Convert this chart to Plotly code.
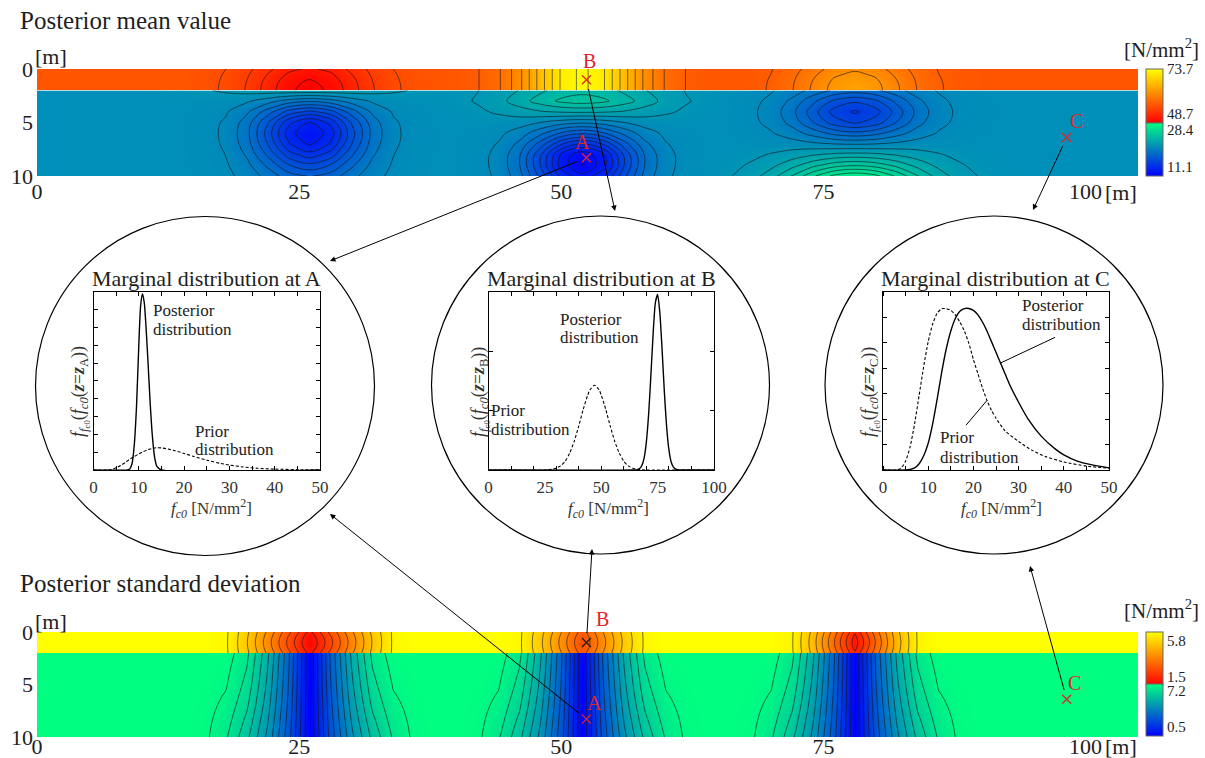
import numpy as np
import plotly.graph_objects as go

W, H = 1205, 758
SERIF = "Liberation Serif, DejaVu Serif, serif"
INK = "#1e1e1e"
RED = "#e3242b"

# ---------------- grid of the cross-section ----------------
X_MAX = 105.0
x_m = [float(v) for v in range(0, 106, 2)] + [X_MAX]
depth_top = [0.0, 0.5, 1.0, 1.5, 2.0]                               # upper layer [m]
depth_bottom = [2.0, 3.0, 4.0, 5.0, 6.0, 7.0, 8.0, 9.0, 10.0]       # lower layer [m]
x_ticks = [0, 25, 50, 75, 100]
depth_ticks = [0, 5, 10]

# lateral decay of an anomaly, one-sided, every 2 m from its centre
lateral_dist_m = [0, 2, 4, 6, 8, 10, 12, 14, 16, 18]
decay = {
    "g35": [1.0, 0.849, 0.520, 0.230, 0.073, 0.017, 0.003, 0.0, 0.0, 0.0],
    "g4": [1.0, 0.882, 0.607, 0.325, 0.135, 0.044, 0.011, 0.002, 0.0, 0.0],
    "g5": [1.0, 0.923, 0.726, 0.487, 0.278, 0.135, 0.056, 0.020, 0.006, 0.0],
    "g6": [1.0, 0.946, 0.801, 0.607, 0.411, 0.249, 0.135, 0.066, 0.029, 0.0],
    "t8": [1.0, 0.74, 0.48, 0.23, 0.03, 0.0, 0.0, 0.0, 0.0, 0.0],
    "t6": [1.0, 0.64, 0.30, 0.04, 0.0, 0.0, 0.0, 0.0, 0.0, 0.0],
    "pn": [1.0, 0.62, 0.32, 0.09, 0.0, 0.0, 0.0, 0.0, 0.0, 0.0],
    "pw": [1.0, 0.68, 0.43, 0.24, 0.10, 0.02, 0.0, 0.0, 0.0, 0.0],
}

# posterior mean [N/mm2], upper layer
mean_top_base = 57.0
mean_top_centre = [26, 52, 78]
mean_top_amp = [-8.3, 16.7, 7.5]
mean_top_shape = ["g4", "g4", "g4"]
mean_top_vert = [[0.75, 0.85, 0.93, 0.98, 1.0],
                 [1.0, 1.0, 1.0, 1.0, 1.0],
                 [0.75, 0.85, 0.93, 0.98, 1.0]]

# posterior mean [N/mm2], lower layer
mean_bot_base = 20.8
mean_bot_centre = [26, 26, 52, 52, 78, 78]
mean_bot_amp = [1.5, -8.5, 3.8, -9.7, -6.0, 6.6]
mean_bot_shape = ["g6", "g35", "g5", "g35", "g4", "g5"]
mean_bot_vert = [[1.0, 0.3, 0.05, 0.0, 0.0, 0.0, 0.0, 0.0, 0.0],
                 [0.05, 0.3, 0.62, 0.9, 1.0, 0.92, 0.75, 0.55, 0.38],
                 [0.75, 1.0, 0.6, 0.2, 0.05, 0.0, 0.0, 0.0, 0.0],
                 [0.0, 0.02, 0.08, 0.2, 0.42, 0.7, 0.95, 0.98, 0.85],
                 [0.45, 0.8, 1.0, 0.85, 0.5, 0.2, 0.05, 0.0, 0.0],
                 [0.0, 0.0, 0.0, 0.0, 0.02, 0.1, 0.3, 0.6, 1.0]]

# posterior standard deviation [N/mm2], upper layer
std_top_base = 5.8
std_top_centre = [26, 52, 78]
std_top_amp = [-4.2, -3.0, -4.0]
std_top_shape = ["t8", "t6", "t6"]
std_top_vert = [[0.93, 0.98, 1.0, 0.98, 0.93]] * 3

# posterior standard deviation [N/mm2], lower layer (narrow near the top, wider at depth)
std_bot_base = 7.2
upper_weight = [1.0, 0.9, 0.8, 0.7, 0.58, 0.45, 0.3, 0.15, 0.0]
lower_weight = [0.0, 0.1, 0.2, 0.3, 0.42, 0.55, 0.7, 0.85, 1.0]
std_bot_centre = [26, 26, 52, 52, 78, 78]
std_bot_amp = [-6.7, -6.7, -6.7, -6.7, -6.7, -6.7]
std_bot_shape = ["pn", "pw", "pn", "pw", "pn", "pw"]
std_bot_vert = [upper_weight, lower_weight] * 3

# colour ranges of the two layers
mean_top_range = [48.7, 73.7]
mean_bot_range = [11.1, 28.4]
std_top_range = [1.5, 5.8]
std_bot_range = [0.5, 7.2]

# observation points (x [m], depth [m])
point_name = ["A", "B", "C"]
point_x = [52.4, 52.4, 98.2]
point_depth = [8.3, 1.0, 6.4]

# marginal distributions (relative density)
post_a_x = [0, 7.5, 8.0, 8.5, 9.0, 9.5, 10.0, 10.4, 10.8, 11.2, 11.6, 12.0, 12.5, 13.0, 13.5, 14.0, 15.0, 50]
post_a_y = [0, 0, 0.006, 0.035, 0.14, 0.36, 0.70, 0.92, 0.987, 0.94, 0.80, 0.62, 0.38, 0.19, 0.07, 0.02, 0, 0]
prior_a_x = [0, 3, 4, 5, 6, 7, 8, 9, 10, 11, 12, 13, 14, 15, 16, 18, 20, 22, 25, 28, 30, 33, 36, 40, 45, 50]
prior_a_y = [0, 0, 0.003, 0.012, 0.025, 0.042, 0.06, 0.076, 0.09, 0.103, 0.114, 0.121, 0.125, 0.124, 0.12,
             0.108, 0.093, 0.077, 0.055, 0.037, 0.028, 0.017, 0.010, 0.005, 0.002, 0.0005]
post_b_x = [0, 64, 66, 67, 68, 69, 70, 71, 72, 73, 74, 75, 76, 77, 78, 79, 80, 81, 82, 83, 84, 86, 100]
post_b_y = [0, 0, 0.002, 0.008, 0.025, 0.067, 0.156, 0.311, 0.527, 0.762, 0.938, 0.984, 0.879, 0.670,
            0.435, 0.241, 0.114, 0.045, 0.016, 0.005, 0.001, 0, 0]
prior_b_x = [0, 26, 28, 30, 32, 34, 36, 38, 40, 42, 44, 45, 47, 49, 50, 52, 54, 56, 58, 60, 62, 64, 66, 68, 70, 100]
prior_b_y = [0, 0, 0.004, 0.010, 0.023, 0.049, 0.094, 0.16, 0.246, 0.34, 0.42, 0.45, 0.475, 0.45, 0.42,
             0.34, 0.246, 0.16, 0.094, 0.049, 0.023, 0.010, 0.004, 0.001, 0, 0]
post_c_x = [0, 5, 6, 7, 8, 9, 10, 11, 12, 13, 14, 15, 16, 17, 18, 19, 20, 21, 22, 23, 24, 25, 26, 27, 28,
            30, 32, 35, 38, 40, 43, 46, 50]
post_c_y = [0, 0, 0.003, 0.012, 0.035, 0.08, 0.15, 0.26, 0.40, 0.55, 0.68, 0.78, 0.85, 0.89, 0.905, 0.906,
            0.895, 0.87, 0.83, 0.78, 0.72, 0.66, 0.60, 0.54, 0.48, 0.38, 0.29, 0.19, 0.12, 0.085, 0.05, 0.03, 0.012]
prior_c_x = [0, 3, 4, 5, 6, 7, 8, 9, 10, 11, 12, 13, 14, 15, 16, 17, 18, 19, 20, 21, 22, 23, 24, 25, 27,
             30, 33, 36, 40, 45, 50]
prior_c_y = [0, 0, 0.01, 0.05, 0.13, 0.26, 0.42, 0.58, 0.72, 0.82, 0.88, 0.905, 0.905, 0.895, 0.87, 0.83,
             0.78, 0.71, 0.62, 0.54, 0.46, 0.39, 0.335, 0.29, 0.22, 0.16, 0.11, 0.075, 0.045, 0.022, 0.01]


# ---------------- build the fields ----------------
col_of = {x: i for i, x in enumerate(x_m)}


def lateral(centre, shape):
    h = np.zeros(len(x_m))
    for d, v in zip(lateral_dist_m, decay[shape]):
        for xx in {centre - d, centre + d}:
            if xx in col_of:
                h[col_of[xx]] = v
    return h


def layer(base, centres, amps, shapes, verts):
    z = np.full((len(verts[0]), len(x_m)), float(base))
    for c, a, s, v in zip(centres, amps, shapes, verts):
        z += a * np.outer(v, lateral(c, s))
    return z


mean_top = layer(mean_top_base, mean_top_centre, mean_top_amp, mean_top_shape, mean_top_vert)
mean_bot = layer(mean_bot_base, mean_bot_centre, mean_bot_amp, mean_bot_shape, mean_bot_vert)
std_top = layer(std_top_base, std_top_centre, std_top_amp, std_top_shape, std_top_vert)
std_bot = layer(std_bot_base, std_bot_centre, std_bot_amp, std_bot_shape, std_bot_vert)

RY = [[0, "#ff0000"], [1, "#ffff00"]]
BG = [[0, "#0000ff"], [1, "#00ff80"]]

fig = go.Figure()


def field(x, y, z, ca, levels, xa, ya):
    fig.add_trace(go.Contour(
        x=x, y=y, z=z, coloraxis=ca, xaxis=xa, yaxis=ya, autocontour=False,
        contours=dict(coloring="heatmap", start=levels[0], end=levels[1], size=levels[2], showlines=True),
        line=dict(color="#141414", width=0.6, smoothing=1.0), hoverinfo="skip"))


field(x_m, depth_top, mean_top, "coloraxis", (49.35, 73.2, 1.7), "x", "y")
field(x_m, depth_bottom, mean_bot, "coloraxis2", (11.35, 27.6, 0.9), "x", "y")
field(x_m, depth_top, std_top, "coloraxis3", (1.6, 5.6, 0.4), "x2", "y2")
field(x_m, depth_bottom, std_bot, "coloraxis4", (0.95, 6.95, 0.5), "x2", "y2")

# observation points on both maps
for xa, ya, colours in (("x", "y", [RED, RED, RED]), ("x2", "y2", [RED, INK, RED])):
    fig.add_trace(go.Scatter(
        x=point_x, y=point_depth, mode="markers", xaxis=xa, yaxis=ya, hoverinfo="skip",
        marker=dict(symbol="x-thin", size=9, line=dict(color=colours, width=1.3))))

# marginal distributions
for xa, ya, px_, py_, qx, qy in (("x3", "y3", post_a_x, post_a_y, prior_a_x, prior_a_y),
                                ("x4", "y4", post_b_x, post_b_y, prior_b_x, prior_b_y),
                                ("x5", "y5", post_c_x, post_c_y, prior_c_x, prior_c_y)):
    fig.add_trace(go.Scatter(x=qx, y=qy, mode="lines", xaxis=xa, yaxis=ya, hoverinfo="skip",
                             line=dict(color="black", width=1.1, dash="3px,2px", shape="spline", smoothing=0.6)))
    fig.add_trace(go.Scatter(x=px_, y=py_, mode="lines", xaxis=xa, yaxis=ya, hoverinfo="skip",
                             line=dict(color="black", width=1.4, shape="spline", smoothing=0.6)))


# ---------------- layout ----------------
def fy(py):
    return 1 - py / H


MAP_L, MAP_R = 37, 1138
TOP_T, TOP_B = 69, 176
BOT_T, BOT_B = 632, 737
INSET_Y = [fy(470), fy(291.7)]
INSET_X = {"3": [93.5, 320], "4": [488.5, 714], "5": [883, 1109]}


def map_axes(n, top, bottom, standoff):
    xa = dict(domain=[MAP_L / W, MAP_R / W], anchor="y" + n, range=[0, X_MAX], tickvals=x_ticks,
              showgrid=False, zeroline=False, showline=False, ticks="", ticklabelstandoff=standoff,
              tickfont=dict(family=SERIF, size=22, color=INK))
    ya = dict(domain=[fy(bottom), fy(top)], anchor="x" + n, range=[10, 0], tickvals=depth_ticks,
              showgrid=False, zeroline=False, showline=False, ticks="", ticklabelstandoff=3,
              tickfont=dict(family=SERIF, size=22, color=INK))
    return xa, ya


xa1, ya1 = map_axes("", TOP_T, TOP_B, 0)
xa2, ya2 = map_axes("2", BOT_T, BOT_B, -6)
layout_axes = {"xaxis": xa1, "yaxis": ya1, "xaxis2": xa2, "yaxis2": ya2}

inset_xmax = {"3": 50, "4": 100, "5": 50}
inset_labels = {"3": [0, 10, 20, 30, 40, 50], "4": [0, 25, 50, 75, 100], "5": [0, 10, 20, 30, 40, 50]}
inset_minor = {"3": list(range(0, 51, 5)), "4": list(range(0, 101, 10)), "5": list(range(0, 51, 5))}
inset_yticks = {"3": [k / 10 for k in range(11)], "4": [k / 3 for k in range(4)], "5": [k / 7 for k in range(8)]}
for n, (l, r) in INSET_X.items():
    layout_axes["xaxis" + n] = dict(
        domain=[l / W, r / W], anchor="y" + n, range=[0, inset_xmax[n]], tickvals=inset_labels[n],
        ticks="", showgrid=False, zeroline=False, showline=True, mirror="allticks", linecolor="black",
        linewidth=1, ticklabelstandoff=2, tickfont=dict(family=SERIF, size=17, color="#333"),
        minor=dict(tickvals=inset_minor[n], ticks="inside", ticklen=4, tickcolor="black", showgrid=False))
    layout_axes["yaxis" + n] = dict(
        domain=INSET_Y, anchor="x" + n, range=[0, 1], tickvals=inset_yticks[n], showticklabels=False,
        ticks="inside", ticklen=4, tickcolor="black", showgrid=False, zeroline=False, showline=True,
        mirror="allticks", linecolor="black", linewidth=1)


def colorbar(top_px, len_px, tickvals, ticktext):
    return dict(x=1146 / W, xanchor="left", xpad=0, y=fy(top_px), yanchor="top", ypad=0,
                len=len_px, lenmode="pixels", thickness=17, thicknessmode="pixels",
                outlinewidth=1, outlinecolor="#666", ticks="", tickvals=tickvals, ticktext=ticktext,
                tickfont=dict(family=SERIF, size=15, color=INK))


coloraxes = dict(
    coloraxis=dict(cmin=mean_top_range[0], cmax=mean_top_range[1], colorscale=RY,
                   colorbar=colorbar(69, 53.7, [53.0, 73.6], ["48.7", "73.7"])),
    coloraxis2=dict(cmin=mean_bot_range[0], cmax=mean_bot_range[1], colorscale=BG,
                    colorbar=colorbar(122.7, 53.3, [14.1, 26.0], ["11.1", "28.4"])),
    coloraxis3=dict(cmin=std_top_range[0], cmax=std_top_range[1], colorscale=RY,
                    colorbar=colorbar(631.7, 52.6, [2.15, 5.06], ["1.5", "5.8"])),
    coloraxis4=dict(cmin=std_bot_range[0], cmax=std_bot_range[1], colorscale=BG,
                    colorbar=colorbar(684.3, 52.4, [1.7, 6.35], ["0.5", "7.2"])),
)

ann = []


def text(t, x, y, size, xanchor="left", yanchor="middle", color=INK, angle=0):
    ann.append(dict(text=t, x=x / W, y=fy(y), xref="paper", yref="paper", showarrow=False,
                    xanchor=xanchor, yanchor=yanchor, textangle=angle,
                    font=dict(family=SERIF, size=size, color=color)))


text("Posterior mean value", 18, 20, 25)
text("Posterior standard deviation", 18, 583, 25)
text("[m]", 33, 56, 22)
text("[m]", 33, 621, 22)
text("[m]", 1139, 192, 22, xanchor="right")
text("[m]", 1139, 746, 22, xanchor="right")
text("[N/mm<sup>2</sup>]", 1201, 48, 21, xanchor="right")
text("[N/mm<sup>2</sup>]", 1201, 609, 21, xanchor="right")

# inset titles, axis titles and curve labels
for letter, (l, r), ylab_x, xlab_x in (("A", INSET_X["3"], 80, 211.7),
                                       ("B", INSET_X["4"], 480, 608.3),
                                       ("C", INSET_X["5"], 870, 1001.7)):
    text("Marginal distribution at " + letter, (l + r) / 2, 278.3, 22, xanchor="center")
    text("<i>f</i><sub><i>f</i><sub>c0</sub></sub>(<i>f</i><sub><i>c0</i></sub>(<b><i>z</i></b>=<b><i>z</i></b>"
         "<sub>" + letter + "</sub>))", ylab_x, 392, 18, xanchor="center", color="#333", angle=-90)
    text("<i>f</i><sub><i>c0</i></sub> [N/mm<sup>2</sup>]", xlab_x, 508, 17, xanchor="center", color="#333")

for t, x, y in (("Posterior", 153, 310), ("distribution", 153, 329), ("Prior", 195, 431), ("distribution", 195, 449),
                ("Posterior", 560, 320), ("distribution", 560, 338), ("Prior", 491, 410), ("distribution", 491, 429),
                ("Posterior", 1022, 305), ("distribution", 1022, 324), ("Prior", 940, 437), ("distribution", 940, 457)):
    text(t, x - 2, y, 17, color="#222")

# leader lines inside the C inset (label -> curve)
for (hx, hy), (tx, ty) in (((post_c_x[22], post_c_y[22]), (38.4, 0.748)),
                           ((prior_c_x[21], prior_c_y[21]), (18.1, 0.243))):
    ann.append(dict(x=hx, y=hy, xref="x5", yref="y5", ax=tx, ay=ty, axref="x5", ayref="y5", text="",
                    showarrow=True, arrowhead=0, arrowwidth=1, arrowcolor="black"))

# point labels on both maps
label_shift = {("x", "A"): (-4, 16), ("x", "B"): (3, 19), ("x", "C"): (10, 16),
               ("x2", "A"): (8, 16), ("x2", "B"): (16, 24), ("x2", "C"): (8, 16)}
for xa, ya in (("x", "y"), ("x2", "y2")):
    for name, px_, pd_ in zip(point_name, point_x, point_depth):
        dx, dy = label_shift[(xa, name)]
        ann.append(dict(text=name, x=px_, y=pd_, xref=xa, yref=ya, showarrow=False, xshift=dx, yshift=dy,
                        font=dict(family=SERIF, size=20, color=RED)))


# arrows from the points to the magnified distributions
def map_pixel(i, top):
    px_ = MAP_L + point_x[i] / X_MAX * (MAP_R - MAP_L)
    t, b = (TOP_T, TOP_B) if top else (BOT_T, BOT_B)
    return px_, t + point_depth[i] / 10 * (b - t)


for i, top, (hx, hy) in ((0, True, (330, 261)), (1, True, (615, 211)), (2, True, (1033, 210)),
                          (0, False, (330, 514)), (1, False, (592, 549)), (2, False, (1030, 566))):
    tx, ty = map_pixel(i, top)
    ann.append(dict(x=hx / W, y=fy(hy), xref="paper", yref="paper", ax=tx - hx, ay=ty - hy,
                    axref="pixel", ayref="pixel", text="", showarrow=True, arrowhead=2, arrowsize=1.1,
                    arrowwidth=1, arrowcolor="black", startstandoff=8))

# magnifier circles
shapes = []
for cx, cy, r in ((205, 386, 169.5), (600.5, 385, 169), (994, 385, 169)):
    shapes.append(dict(type="circle", xref="paper", yref="paper", x0=(cx - r) / W, x1=(cx + r) / W,
                       y0=fy(cy + r), y1=fy(cy - r), line=dict(color="black", width=1.2)))

fig.update_layout(
    width=W, height=H, margin=dict(l=0, r=0, t=0, b=0, autoexpand=False),
    paper_bgcolor="white", plot_bgcolor="white",
    showlegend=False, annotations=ann, shapes=shapes, **layout_axes, **coloraxes)

fig.write_html("out.html")
